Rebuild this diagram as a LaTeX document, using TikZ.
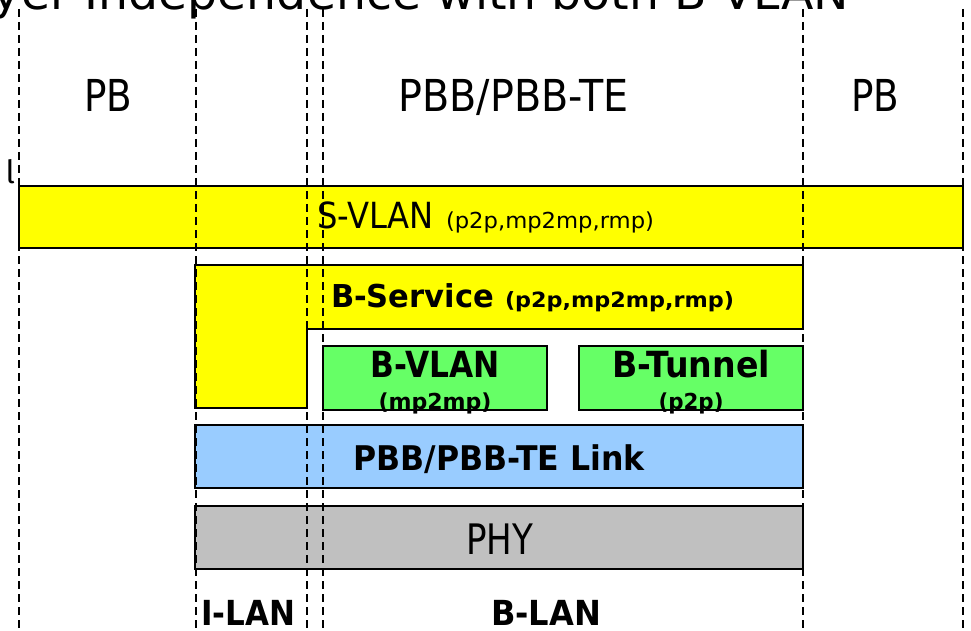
\documentclass[tikz,border=0pt]{standalone}
\usepackage{fontspec}
\usepackage{graphicx}
\setmainfont{DejaVu Sans}
\newfontfamily\tailfont{Fira Sans}
\newcommand\fitw[2]{\resizebox{#1pt}{\height}{#2}}
\newcommand\fs[1]{\fontsize{#1}{#1}\selectfont}
\definecolor{layeryellow}{HTML}{FFFF00}
\definecolor{layergreen}{HTML}{66FF66}
\definecolor{layerblue}{HTML}{99CCFF}
\definecolor{layergray}{HTML}{C0C0C0}
\tikzset{
  lbl/.style={inner sep=0pt, outer sep=0pt, anchor=base, text=black},
  layer/.style={draw=black, line width=1.6pt, line join=miter},
  guide/.style={draw=black, line width=1.2pt, dash pattern=on 8pt off 5pt},
}
\begin{document}
\begin{tikzpicture}[x=1pt,y=-1pt]
\useasboundingbox (0,0) rectangle (971,631);
\clip (0,0) rectangle (971,631);
% layers
\draw[layer, fill=layeryellow] (19,186) rectangle (963,248);
\draw[layer, fill=layeryellow] (195,265) -- (803,265) -- (803,329) -- (307,329) -- (307,408) -- (195,408) -- cycle;
\draw[layer, fill=layergreen] (323,346) rectangle (547,410);
\draw[layer, fill=layergreen] (579,346) rectangle (803,410);
\draw[layer, fill=layerblue] (195,425) rectangle (803,488);
\draw[layer, fill=layergray] (195,506) rectangle (803,569);
% guides
\foreach \gx in {19,196,307,323,803,963}{
  \draw[guide] (\gx,9) -- (\gx,631);
}
% texts
\node[lbl, anchor=base east] (title) at (849,10) {\fs{46}\fitw{856}{yer Independence with both B-VLAN}};
\node[lbl, anchor=base east] (leftcut) at (15,184) {\tailfont\fs{32}l};
\node[lbl] (pbleft) at (108,112) {\fs{44}\fitw{48}{PB}};
\node[lbl] (pbbte) at (513.5,112) {\fs{44}\fitw{230}{PBB/PBB-TE}};
\node[lbl] (pbright) at (875,112) {\fs{44}\fitw{48}{PB}};
\node[lbl, anchor=base west] (svlan) at (317,228) {\fs{36}\fitw{117}{S-VLAN}\hspace{12pt}\fs{22}\fitw{208}{(p2p,mp2mp,rmp)}};
\node[lbl, anchor=base west] (bservice) at (331,307) {\bfseries\fs{31.5}\fitw{163}{B-Service}\hspace{11pt}\fs{21}\fitw{229}{(p2p,mp2mp,rmp)}};
\node[lbl] (bvlan) at (435,377) {\bfseries\fs{36}\fitw{129}{B-VLAN}};
\node[lbl] (bvlanmode) at (435,409) {\bfseries\fs{22}\fitw{113}{(mp2mp)}};
\node[lbl] (btunnel) at (691,377) {\bfseries\fs{36}\fitw{158}{B-Tunnel}};
\node[lbl] (btunnelmode) at (691,409) {\bfseries\fs{22}\fitw{65}{(p2p)}};
\node[lbl] (link) at (499,470) {\bfseries\fs{34}\fitw{291}{PBB/PBB-TE Link}};
\node[lbl] (phy) at (499.5,554) {\fs{42}\fitw{67}{PHY}};
\node[lbl, anchor=base west] (ilan) at (201,625) {\bfseries\fs{34.5}\fitw{94}{I-LAN}};
\node[lbl] (blan) at (546,625) {\bfseries\fs{34.5}\fitw{110}{B-LAN}};
\end{tikzpicture}
\end{document}
